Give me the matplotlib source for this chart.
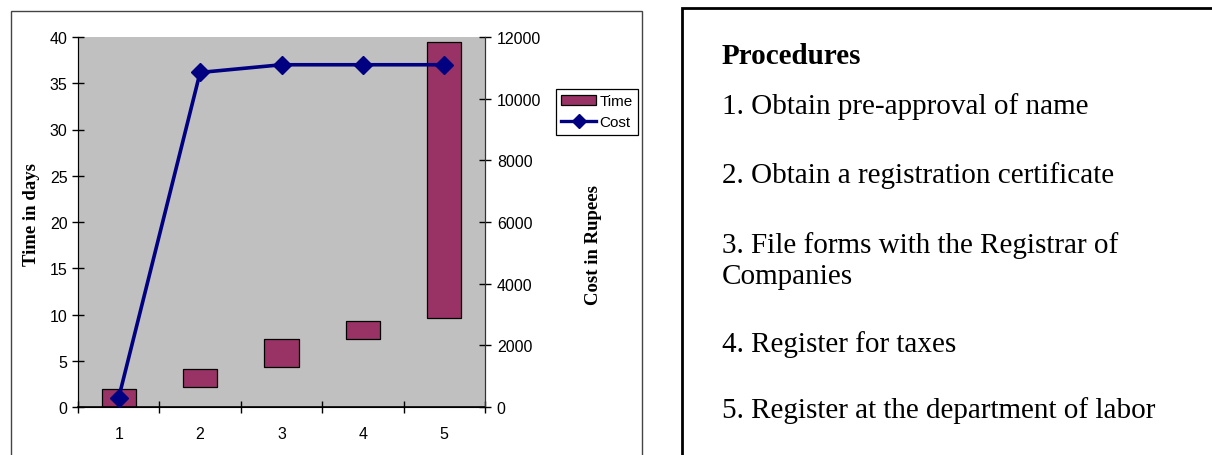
import numpy as np
import matplotlib.pyplot as plt
from matplotlib.patches import Rectangle, Patch
from matplotlib.lines import Line2D

# data
steps = [1, 2, 3, 4, 5]
time_start = [0.0, 2.2, 4.3, 7.4, 9.6]
time_end = [2.0, 4.1, 7.3, 9.3, 39.5]
cost = [300, 10850, 11100, 11100, 11100]
procedures = [
    "1. Obtain pre-approval of name",
    "2. Obtain a registration certificate",
    "3. File forms with the Registrar of\nCompanies",
    "4. Register for taxes",
    "5. Register at the department of labor",
]

W, H = 1212, 456
sans = "Liberation Sans"
serif = "Liberation Serif"
plum = "#993366"
navy = "#000080"

fig = plt.figure(figsize=(W / 100, H / 100), dpi=100)


def fx(px):
    return px / W


def fy(py):
    return 1 - py / H


# outer frames
fig.add_artist(Rectangle((fx(11), fy(470)), fx(642) - fx(11), fy(12) - fy(470),
                         transform=fig.transFigure, fill=False, ec="#444444", lw=1.0))
fig.add_artist(Rectangle((fx(682), fy(470)), fx(1230) - fx(682), fy(9) - fy(470),
                         transform=fig.transFigure, fill=False, ec="black", lw=2.0))

ax = fig.add_axes([fx(78), fy(408), fx(485) - fx(78), fy(38) - fy(408)])
ax.set_facecolor("#C0C0C0")

x = np.array(steps)
heights = np.array(time_end) - np.array(time_start)
ax.bar(x, heights, bottom=time_start, width=0.42, color=plum, edgecolor="black", lw=0.9, zorder=2)

ax.set_xlim(0.5, 5.5)
ax.set_ylim(0, 40)
ax.set_yticks(np.arange(0, 41, 5))
ax.set_xticks(np.arange(0.5, 5.6, 1))
ax.set_xticklabels([])
ax.set_xticks(x, minor=True)
ax.set_xticklabels([str(s) for s in steps], minor=True, fontfamily=sans, fontsize=11.5)
ax.tick_params(axis="x", which="minor", length=0, pad=14)
ax.tick_params(axis="x", which="major", direction="inout", length=9, width=1)
ax.tick_params(axis="y", direction="inout", length=9, width=1, labelsize=11.5, pad=3)
for lab in ax.get_yticklabels():
    lab.set_fontfamily(sans)
ax.spines["top"].set_visible(False)
ax.spines["left"].set_color("#333333")
ax.spines["right"].set_color("#333333")
ax.spines["bottom"].set_color("black")
ax.spines["bottom"].set_linewidth(1.2)

ax2 = ax.twinx()
ax2.plot(x, cost, color=navy, lw=2.6, marker="D", markersize=9.5, zorder=3)
ax2.set_ylim(0, 12000)
ax2.set_yticks(np.arange(0, 12001, 2000))
ax2.tick_params(axis="y", direction="inout", length=9, width=1, labelsize=11.5, pad=4)
for lab in ax2.get_yticklabels():
    lab.set_fontfamily(sans)
ax2.spines["top"].set_visible(False)
ax2.spines["right"].set_color("#333333")

fig.text(fx(32), fy(215), "Time in days", rotation=90, ha="center", va="center",
         fontfamily=serif, fontweight="bold", fontsize=13.5)
fig.text(fx(593), fy(245), "Cost in Rupees", rotation=90, ha="center", va="center",
         fontfamily=serif, fontweight="bold", fontsize=13.5)

handles = [Patch(facecolor=plum, edgecolor="black", lw=0.9),
           Line2D([], [], color=navy, lw=2.4, marker="D", markersize=7)]
leg = fig.legend(handles, ["Time", "Cost"], loc="upper left",
                 bbox_to_anchor=(fx(556), fy(90)), prop={"family": sans, "size": 11},
                 frameon=True, fancybox=False, edgecolor="black", framealpha=1,
                 handlelength=2.3, handletextpad=0.2, borderpad=0.35, labelspacing=0.45,
                 borderaxespad=0, numpoints=1)
leg.get_frame().set_linewidth(0.9)

# procedures panel
fig.text(fx(722), fy(57), "Procedures", ha="left", va="center",
         fontfamily=serif, fontweight="bold", fontsize=21)
ys = [107, 176, 261, 345, 411]
for yy, txt in zip(ys, procedures):
    fig.text(fx(722), fy(yy), txt, ha="left", va="center",
             fontfamily=serif, fontsize=21, linespacing=1.25)

fig.savefig("out.png", dpi=100)
